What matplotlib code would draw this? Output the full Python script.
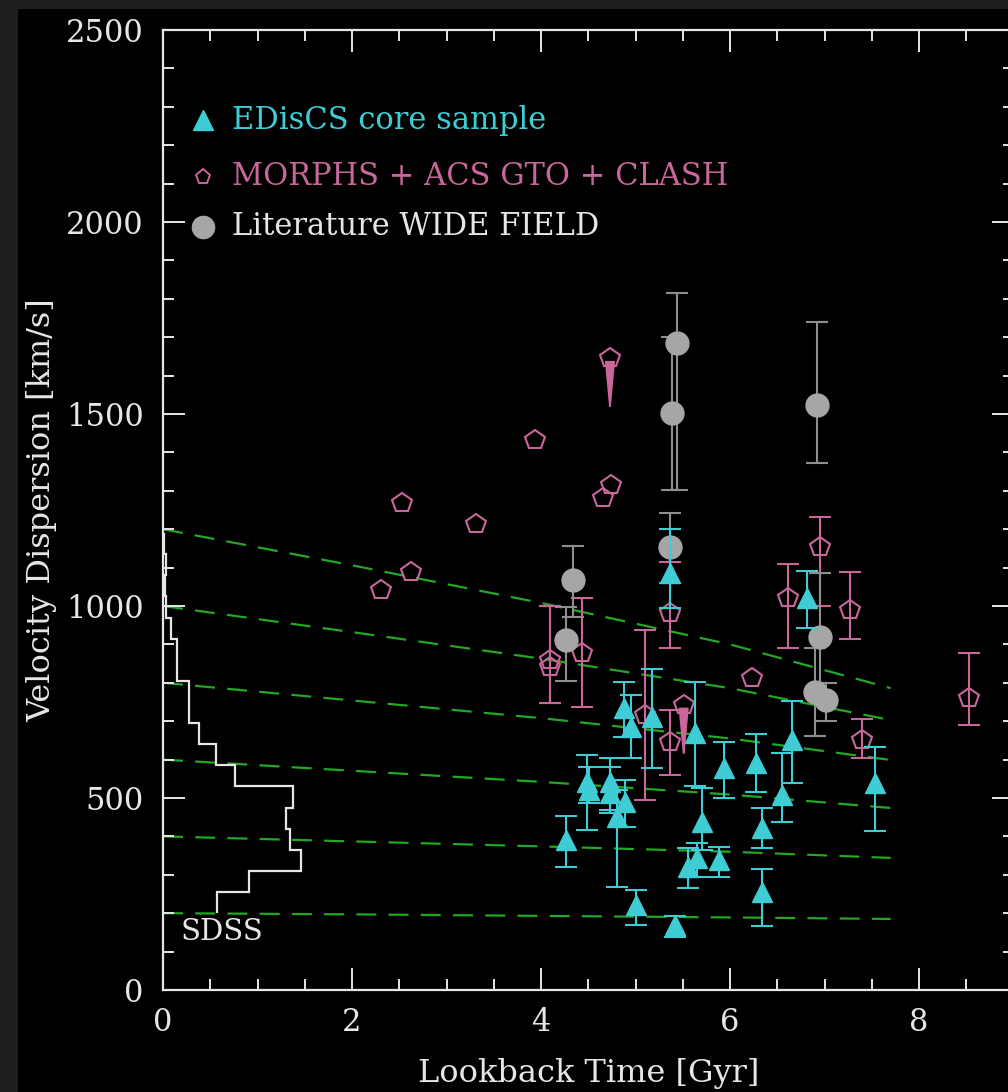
import matplotlib
matplotlib.use('Agg')
import matplotlib.pyplot as plt
import numpy as np
from matplotlib.ticker import MultipleLocator
from matplotlib.patches import Rectangle

# ---------------- data ----------------
# EDisCS core sample: lookback time, sigma, lower end, upper end of error bar
edis_t   = [4.26, 4.49, 4.51, 4.73, 4.73, 4.80, 4.89, 4.88, 4.95, 5.01, 5.17, 5.37, 5.42,
            5.56, 5.63, 5.65, 5.70, 5.88, 5.94, 6.28, 6.34, 6.34, 6.55, 6.66, 6.81, 7.53]
edis_sig = [391, 542, 521, 542, 512, 451, 490, 734, 686, 221, 712, 1085, 169,
            321, 669, 344, 438, 339, 577, 590, 421, 256, 508, 651, 1020, 538]
edis_bot = [321, 417, 487, 469, 460, 269, 425, 660, 604, 169, 578, 995, 139,
            266, 530, 295, 365, 295, 499, 516, 369, 167, 438, 538, 942, 414]
edis_top = [453, 612, 582, 604, 582, 520, 547, 803, 768, 260, 836, 1201, 193,
            370, 803, 383, 526, 373, 647, 667, 473, 314, 616, 753, 1091, 634]

# MORPHS + ACS GTO + CLASH with error bars
morph_t   = [4.10, 4.10, 4.43, 5.10, 5.37, 5.36, 6.61, 6.95, 7.27, 7.40, 8.53]
morph_sig = [859, 842, 877, 716, 981, 647, 1020, 1154, 990, 651, 761]
morph_bot = [748, 748, 736, 495, 890, 560, 890, 1000, 913, 605, 689]
morph_top = [1000, 1000, 1020, 937, 1115, 729, 1109, 1232, 1088, 707, 877]
# without error bars
morph2_t   = [2.31, 2.53, 2.62, 3.31, 3.94, 4.66, 4.74, 6.23]
morph2_sig = [1042, 1268, 1089, 1214, 1432, 1280, 1315, 812]
# upper limits
lim_t   = [4.73, 5.51]
lim_sig = [1645, 742]

# Literature wide field
lit_t   = [4.26, 4.34, 5.37, 5.39, 5.44, 6.92, 6.95, 6.90, 7.02]
lit_sig = [911, 1068, 1154, 1502, 1684, 1523, 920, 777, 755]
lit_bot = [805, 972, 1060, 1302, 1302, 1373, 800, 661, 700]
lit_top = [998, 1156, 1242, 1701, 1814, 1739, 1085, 890, 799]

# evolutionary tracks (green dashed)
track_t = [0, 2, 4, 6, 7.7]
track_sig = [
    [1200, 1106, 1008, 900, 786],
    [1000, 932, 863, 786, 703],
    [800, 754, 708, 655, 599],
    [600, 571, 542, 509, 474],
    [400, 387, 374, 360, 344],
    [200, 197, 193, 189, 185],
]

# SDSS histogram (scaled counts, in Gyr units) per sigma bin
sdss_edges = [200, 255, 310, 365, 420, 475, 530, 585, 640, 695, 750, 805, 860, 915,
              970, 1025, 1080, 1135, 1190]
sdss_vals = [0.57, 0.91, 1.46, 1.34, 1.30, 1.38, 0.76, 0.56, 0.38, 0.28, 0.28, 0.145,
             0.145, 0.08, 0.035, 0.02, 0.03, 0.01]

legend_labels = ["EDisCS core sample", "MORPHS + ACS GTO + CLASH", "Literature WIDE FIELD"]

# ---------------- style ----------------
CYAN = '#3fcdd5'
PINK = '#c9679a'
GRAY = '#a6a6a6'
EGRAY = '#8e8e8e'
GREEN = '#22a822'
WHITE = '#e6e6e6'
FONT = 'DejaVu Serif'

fig = plt.figure(figsize=(10.08, 10.92), dpi=100, facecolor='black')
# dark frame at top and left edge
fig.patches.append(Rectangle((0, 1 - 9/1092), 1, 9/1092, transform=fig.transFigure,
                             facecolor='#1e1e1e', edgecolor='none'))
fig.patches.append(Rectangle((0, 0), 18/1008, 1, transform=fig.transFigure,
                             facecolor='#1e1e1e', edgecolor='none'))

ax = fig.add_axes([163/1008, 102/1092, 850.5/1008, 960/1092])
ax.set_facecolor('black')
ax.set_xlim(0, 9)
ax.set_ylim(0, 2500)

for s in ax.spines.values():
    s.set_color(WHITE)
    s.set_linewidth(1.6)

ax.xaxis.set_major_locator(MultipleLocator(2))
ax.xaxis.set_minor_locator(MultipleLocator(0.5))
ax.yaxis.set_major_locator(MultipleLocator(500))
ax.yaxis.set_minor_locator(MultipleLocator(100))
ax.tick_params(which='both', direction='in', top=True, right=True, color=WHITE,
               labelcolor=WHITE, width=1.4)
ax.tick_params(which='major', length=16, labelsize=22)
ax.tick_params(which='minor', length=8)
ax.tick_params(axis='y', pad=14)
ax.tick_params(axis='x', pad=12)
for lab in ax.get_xticklabels() + ax.get_yticklabels():
    lab.set_family(FONT)

ax.set_xlabel("Lookback Time [Gyr]", fontsize=23, family=FONT, color=WHITE, va='center')
ax.xaxis.set_label_coords(0.5, -0.0865)
ax.set_ylabel("Velocity Dispersion [km/s]", fontsize=23, family=FONT, color=WHITE, va='center')
ax.yaxis.set_label_coords(-0.142, 0.5)

# tracks
for ts in track_sig:
    ax.plot(track_t, ts, color=GREEN, lw=1.6, dashes=(9, 5.5), zorder=1)

# SDSS histogram
ax.stairs(sdss_vals, sdss_edges, orientation='horizontal', baseline=None,
          color=WHITE, lw=1.6, zorder=2)
ax.text(0.62, 150, "SDSS", color=WHITE, fontsize=21, family=FONT, ha='center', va='center')

def yerr(sig, bot, top):
    sig = np.asarray(sig); return [sig - np.asarray(bot), np.asarray(top) - sig]

# MORPHS
PMS = 15
ax.errorbar(morph_t, morph_sig, yerr=yerr(morph_sig, morph_bot, morph_top), fmt='p',
            ms=PMS, mfc='none', mec=PINK, mew=1.5, ecolor=PINK, elinewidth=1.5,
            capsize=8, capthick=1.5, zorder=3)
ax.plot(morph2_t, morph2_sig, 'p', ms=PMS, mfc='none', mec=PINK, mew=1.5, zorder=3)
ax.plot(lim_t, lim_sig, 'p', ms=PMS, mfc='none', mec=PINK, mew=1.5, zorder=3)
for t, s in zip(lim_t, lim_sig):
    ax.annotate("", xy=(t, s - 150), xytext=(t, s - 12),
                arrowprops=dict(arrowstyle='-|>,head_length=3.2,head_width=0.3',
                                color=PINK, lw=1.3, mutation_scale=10,
                                shrinkA=0, shrinkB=0), zorder=3)

# Literature
ax.errorbar(lit_t, lit_sig, yerr=yerr(lit_sig, lit_bot, lit_top), fmt='o',
            ms=16.5, mfc=GRAY, mec=GRAY, ecolor=EGRAY, elinewidth=1.5,
            capsize=8, capthick=1.5, zorder=4)

# EDisCS
ax.errorbar(edis_t, edis_sig, yerr=yerr(edis_sig, edis_bot, edis_top), fmt='^',
            ms=14, mfc=CYAN, mec=CYAN, ecolor=CYAN, elinewidth=1.5,
            capsize=8, capthick=1.5, zorder=5)

# legend (manual)
leg_y = [0.906, 0.847, 0.795]
leg_colors = [CYAN, PINK, WHITE]
ax.plot(0.047, leg_y[0], '^', ms=14, color=CYAN, transform=ax.transAxes)
ax.plot(0.047, leg_y[1], 'p', ms=11, mfc='none', mec=PINK, mew=1.4, transform=ax.transAxes)
ax.plot(0.047, leg_y[2], 'o', ms=16, color=GRAY, transform=ax.transAxes)
for y, lab, c in zip(leg_y, legend_labels, leg_colors):
    ax.text(0.081, y, lab, color=c, fontsize=22, family=FONT, va='center', ha='left',
            transform=ax.transAxes)

fig.savefig('out.png', dpi=100, facecolor=fig.get_facecolor())
